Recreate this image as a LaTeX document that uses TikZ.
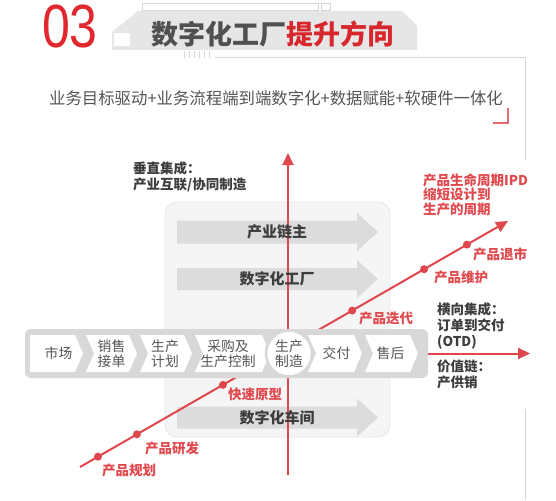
\documentclass[tikz,border=0pt]{standalone}
\usepackage{fontspec}
\newfontfamily\cjk{Noto Sans CJK SC}
\newfontfamily\digitfont{Liberation Sans}
\usetikzlibrary{arrows.meta}
\definecolor{rline}{RGB}{224,71,76}
\definecolor{rtext}{RGB}{224,74,79}
\definecolor{titlered}{RGB}{216,38,45}
\definecolor{bigred}{RGB}{224,40,46}
\definecolor{darktext}{RGB}{61,61,61}
\definecolor{graytext}{RGB}{85,85,85}
\definecolor{bargray}{RGB}{216,216,216}
\definecolor{arrowgray}{RGB}{220,220,220}
\definecolor{panelfill}{RGB}{245,245,245}
\definecolor{panelline}{RGB}{234,228,228}
\definecolor{bannergray}{RGB}{230,230,230}
\definecolor{framegray}{RGB}{215,215,215}
\begin{document}
\begin{tikzpicture}[x=1pt,y=-1pt,
  redlab/.style={font=\cjk\fontsize{13.5}{15}\selectfont\bfseries, text=rtext, inner sep=0pt},
  darklab/.style={font=\cjk\fontsize{13.5}{16}\selectfont\bfseries, text=darktext, inner sep=0pt, align=left, anchor=north west},
  arrowlab/.style={font=\cjk\fontsize{15}{17}\selectfont\bfseries, text=darktext, inner sep=0pt},
  steplab/.style={font=\cjk\fontsize{13.8}{15}\selectfont, text=graytext, inner sep=0pt, align=center},
  chev/.style={fill=white},
  garrow/.style={fill=arrowgray},
  redarrow/.style={draw=rline, line width=2pt, -{Triangle[length=12pt,width=11pt]}},
  reddot/.style={circle, fill=rline, inner sep=0pt, minimum size=8pt},
]
\useasboundingbox (0,0) rectangle (556,500);
\fill[white] (0,0) rectangle (556,500);

% ---------- header ----------
\fill[bannergray] (112,50) -- (112,32) -- (138,11) -- (402,11) -- (417,26) -- (417,50) -- cycle;
\fill[white] (114,33) rectangle (130,46);
\draw[framegray, fill=white, line width=0.6pt] (142,3) rectangle (318,10);
\draw[framegray, fill=white, line width=0.6pt] (321,3) rectangle (330,10);
\foreach \tx in {184,189,194,199,204,209}{
  \draw[framegray, line width=1pt] (\tx,51) -- (\tx,58);
}
\node[font=\digitfont\fontsize{61}{61}\selectfont, text=bigred, inner sep=0pt, text height=44pt, text depth=0pt, xscale=0.82, anchor=south] (num) at (70,47.5) {03};
\node[font=\cjk\fontsize{27}{30}\selectfont\bfseries, inner sep=0pt] (title) at (273,34)
  {\textcolor{darktext!90}{数字化工厂}\textcolor{titlered}{提升方向}};

% frame lines
\draw[framegray, line width=0.8pt] (215,57) -- (525,57) -- (525,160);
\draw[framegray, line width=0.8pt] (525,409) -- (525,500);
\draw[rline!80, line width=1.2pt] (493,123) -- (508,123) -- (508,108);

\node[font=\cjk\fontsize{16.4}{18}\selectfont, text=graytext, inner sep=0pt] (subtitle) at (276,98)
  {业务目标驱动+业务流程端到端数字化+数据赋能+软硬件一体化};

% ---------- panel ----------
\draw[panelline, fill=panelfill, rounded corners=12pt, line width=0.8pt] (165,202) rectangle (390,437);

% gray arrows
\fill[garrow] (177,220.5) -- (357,220.5) -- (357,213) -- (378,232) -- (357,251) -- (357,243.5) -- (177,243.5) -- cycle;
\fill[garrow] (177,268) -- (357,268) -- (357,260) -- (378,279) -- (357,298) -- (357,290) -- (177,290) -- cycle;
\fill[garrow] (177,406.5) -- (357,406.5) -- (357,398.5) -- (378,417.5) -- (357,436.5) -- (357,428.5) -- (177,428.5) -- cycle;

% ---------- red axes ----------
\coordinate (vbot) at (288,475);
\coordinate (vtop) at (288,153);
\draw[redarrow] (vbot) -- (vtop);

\coordinate (dstart) at (80,467);
\coordinate (dend) at (508,221);
\draw[redarrow] (dstart) -- (dend);

\node[arrowlab] (a1) at (277,232) {产业链主};
\node[arrowlab] (a2) at (277,279) {数字化工厂};
\node[arrowlab] (a3) at (277,417.5) {数字化车间};

% ---------- process bar ----------
\node[fill=bargray, rounded corners=6pt, minimum width=403pt, minimum height=49pt, inner sep=0pt] (bar) at (226.5,353.5) {};
\coordinate (hend) at (530,353.5);
\draw[redarrow] (bar.east) -- (hend);

\fill[chev] (30,335) -- (75,335) -- (83,353.5) -- (75,372) -- (30,372) -- cycle;
\fill[chev] (86,335) -- (129,335) -- (137,353.5) -- (129,372) -- (86,372) -- (94,353.5) -- cycle;
\fill[chev] (140,335) -- (184,335) -- (192,353.5) -- (184,372) -- (140,372) -- (148,353.5) -- cycle;
\fill[chev] (195,335) -- (262,335) -- (270,353.5) -- (262,372) -- (195,372) -- (203,353.5) -- cycle;
\fill[chev] (308,335) -- (354,335) -- (362,353.5) -- (354,372) -- (308,372) -- (316,353.5) -- cycle;
\fill[chev] (365,335) -- (410,335) -- (418,353.5) -- (410,372) -- (365,372) -- (373,353.5) -- cycle;
\node[circle, fill=white, draw=bargray, line width=2.5pt, minimum size=46pt, inner sep=0pt] (mfg) at (289,353.5) {};

\node[steplab] (s1) at (58.5,353.5) {市场};
\node[steplab] (s2) at (111.5,353.5) {销售\\接单};
\node[steplab] (s3) at (165,353.5) {生产\\计划};
\node[steplab] (s4) at (228,353.5) {采购及\\生产控制};
\node[steplab] (s5) at (289,353.5) {生产\\制造};
\node[steplab] (s6) at (336.5,353.5) {交付};
\node[steplab] (s7) at (390.5,353.5) {售后};

% ---------- dots on diagonal ----------
\path (dstart) -- (dend)
  node[reddot, pos=0.042] (d1) {}
  node[reddot, pos=0.133] (d2) {}
  node[reddot, pos=0.334] (d3) {}
  node[reddot, pos=0.636] (d4) {}
  node[reddot, pos=0.804] (d5) {}
  node[reddot, pos=0.904] (d6) {};

\node[redlab] (l1) at (129,470) {产品规划};
\node[redlab] (l2) at (172,448) {产品研发};
\node[redlab] (l3) at (255,394) {快速原型};
\node[redlab] (l4) at (386,318) {产品迭代};
\node[redlab] (l5) at (461,277) {产品维护};
\node[redlab] (l6) at (500,254) {产品退市};
\node[redlab, align=left, anchor=north west, font=\cjk\fontsize{13.5}{14.5}\selectfont\bfseries] (ipd) at (423,173) {产品生命周期IPD\\缩短设计到\\生产的周期};

% ---------- dark labels ----------
\node[darklab] (vert) at (133,162) {垂直集成：\\产业互联/协同制造};
\node[darklab, font=\cjk\fontsize{13.5}{16}\selectfont\bfseries] (horiz) at (437,303) {横向集成：\\订单到交付\\(OTD)};
\node[darklab, font=\cjk\fontsize{13.5}{15.5}\selectfont\bfseries] (value) at (437,360) {价值链：\\产供销};
\end{tikzpicture}
\end{document}
